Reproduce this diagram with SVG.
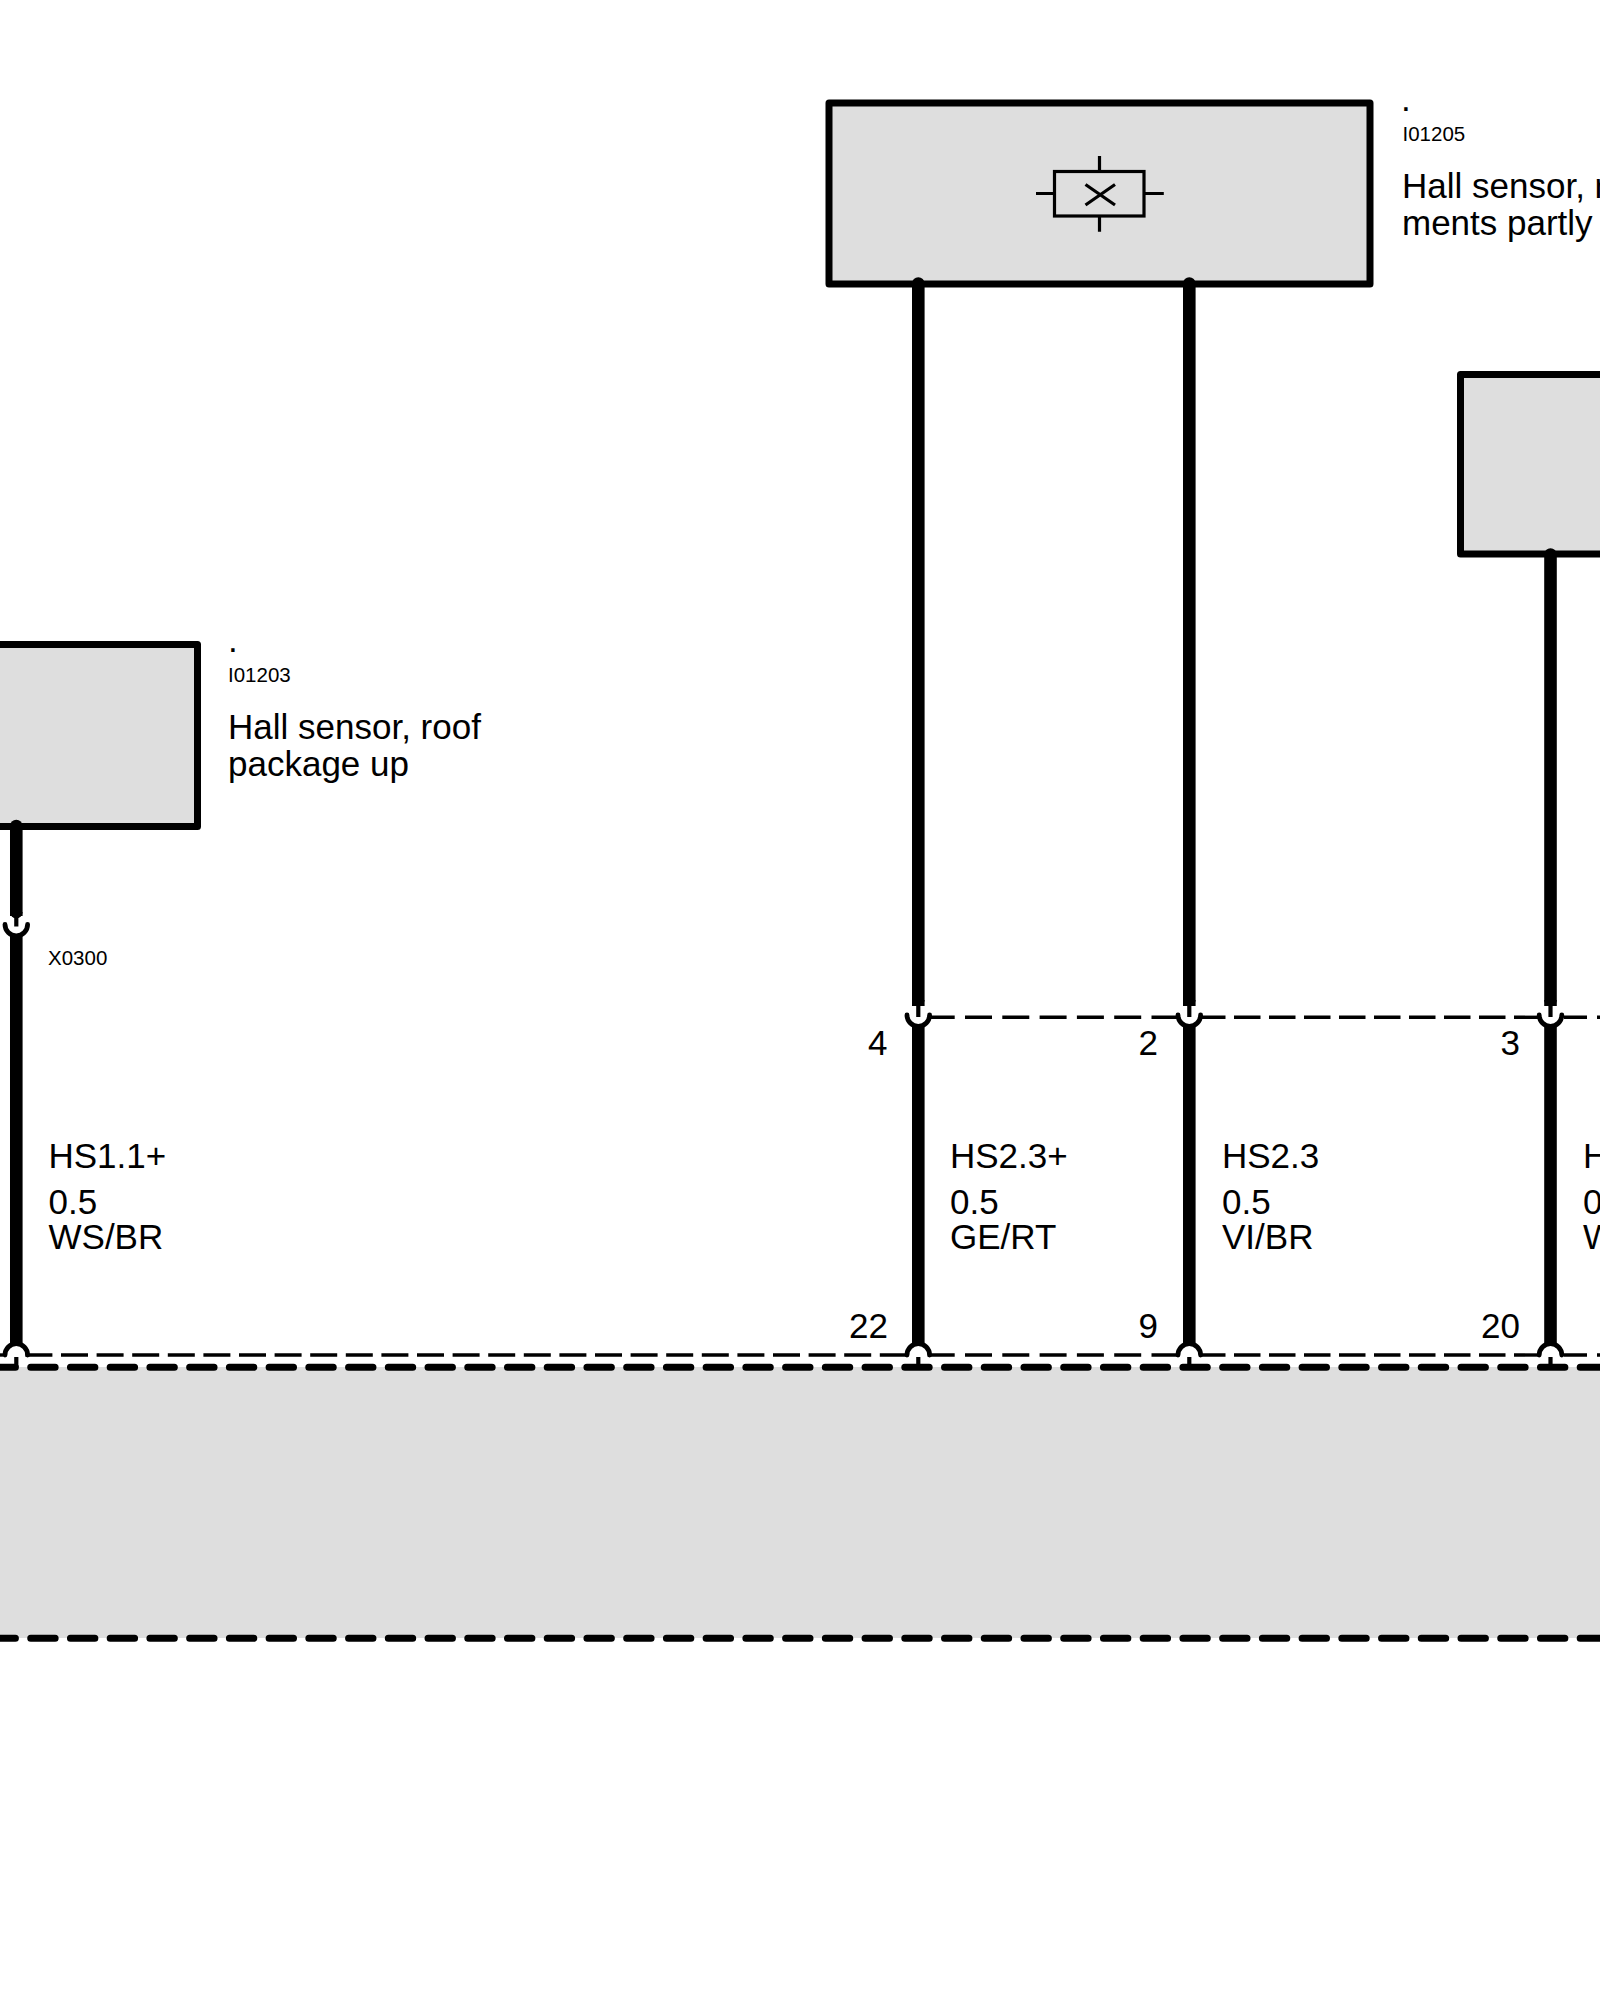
<svg xmlns="http://www.w3.org/2000/svg" xmlns:xlink="http://www.w3.org/1999/xlink" width="1600" height="2000" viewBox="0 0 1600 2000">
<style>
text{font-family:"Liberation Sans",Arial,sans-serif;fill:#000}
.l{font-size:35px}
.s{font-size:20.5px}
.e{text-anchor:end}
.box{fill:#dedede;stroke:#000;stroke-width:7;stroke-linejoin:round}
.wire{fill:none;stroke:#000;stroke-width:12.6;stroke-linecap:round}
.wb{fill:none;stroke:#000;stroke-width:12.6}
.stub{fill:none;stroke:#000;stroke-width:4.2}
.cup{fill:none;stroke:#000;stroke-width:4.8;stroke-linecap:round}
.thin{fill:none;stroke:#000;stroke-width:3.4}
.thick{fill:none;stroke:#000;stroke-width:7;stroke-linecap:round;stroke-dasharray:24.4 15.33}
.sym{fill:none;stroke:#000;stroke-width:3.2}
</style>
<defs>
<g id="cupTop"><path class="cup" d="M-11.3 -2A11.2 11.2 0 0 0 11.3 -2"/><path class="stub" d="M0 -11V0"/></g>
<g id="cupBottom"><path class="cup" d="M-11.3 0A11.2 11.2 0 0 1 11.3 0"/><path class="stub" d="M0 2V12"/></g>
</defs>
<rect width="1600" height="2000" fill="#fff"/>
<g id="control-unit">
<rect x="0" y="1367" width="1600" height="271" fill="#dedede"/>
<path class="thick" d="M-9 1367.3H1610"/>
<path class="thick" d="M-9 1638.3H1610"/>
</g>
<g id="sensor-i01205">
<rect class="box" x="829" y="103" width="541" height="181"/>
<g id="relay-symbol" class="sym">
<rect x="1054.5" y="171.5" width="89.5" height="44.5"/>
<path d="M1099.5 156V171.5M1099.5 216V231.7M1036 193.5H1054.5M1144 193.5H1163.8M1085.5 184.5L1115 205M1115 184.5L1085.5 205"/>
</g>
<text class="l" x="1401" y="111">.</text>
<text class="s" x="1402.5" y="141">I01205</text>
<text class="l" x="1402" y="198">Hall sensor, r</text>
<text class="l" x="1402" y="235">ments partly</text>
</g>
<g id="sensor-3">
<rect class="box" x="1460.5" y="374.5" width="160" height="179.5"/>
</g>
<g id="sensor-i01203">
<rect class="box" x="-20" y="644.5" width="217.5" height="182"/>
<text class="l" x="228" y="652">.</text>
<text class="s" x="228" y="681.7">I01203</text>
<text class="l" x="228" y="739">Hall sensor, roof</text>
<text class="l" x="228" y="776">package up</text>
</g>
<g id="connectors">
<path class="wire" d="M16.3 826V912"/>
<path class="wb" d="M16.3 916V912"/>
<path class="wb" d="M16.3 936V1346"/>
<use xlink:href="#cupTop" href="#cupTop" x="16.3" y="926.5"/>
<use xlink:href="#cupBottom" href="#cupBottom" x="16.3" y="1355"/>
<path class="wire" d="M918.3 283.5V1000"/>
<path class="wb" d="M918.3 1000V1006"/>
<path class="wb" d="M918.3 1027V1346"/>
<use xlink:href="#cupTop" href="#cupTop" x="918.3" y="1017"/>
<use xlink:href="#cupBottom" href="#cupBottom" x="918.3" y="1355"/>
<path class="wire" d="M1189.3 283.5V1000"/>
<path class="wb" d="M1189.3 1000V1006"/>
<path class="wb" d="M1189.3 1027V1346"/>
<use xlink:href="#cupTop" href="#cupTop" x="1189.3" y="1017"/>
<use xlink:href="#cupBottom" href="#cupBottom" x="1189.3" y="1355"/>
<path class="wire" d="M1550.5 554.5V1000"/>
<path class="wb" d="M1550.5 1000V1006"/>
<path class="wb" d="M1550.5 1027V1346"/>
<use xlink:href="#cupTop" href="#cupTop" x="1550.5" y="1017"/>
<use xlink:href="#cupBottom" href="#cupBottom" x="1550.5" y="1355"/>
<g id="dash-top">
<path class="thin" stroke-dasharray="27 10.3" d="M927.7 1017.3H1178"/>
<path class="thin" stroke-dasharray="26.5 8.5" d="M1199 1017.3H1539"/>
<path class="thin" stroke-dasharray="23 10" d="M1564 1017.3H1600"/>
</g>
<g id="dash-bottom">
<path class="thin" d="M0 1355H3"/>
<path class="thin" stroke-dasharray="27 8.6" d="M25.4 1355H906"/>
<path class="thin" stroke-dasharray="27 10.3" d="M927.7 1355H1178"/>
<path class="thin" stroke-dasharray="26.5 8.5" d="M1199 1355H1539"/>
<path class="thin" stroke-dasharray="23 10" d="M1564 1355H1600"/>
</g>
</g>
<g id="labels">
<text class="s" x="48" y="965">X0300</text>
<text class="l" x="48.5" y="1168">HS1.1+</text>
<text class="l" x="48.5" y="1213.5">0.5</text>
<text class="l" x="48.5" y="1249">WS/BR</text>
<text class="l" x="950" y="1168">HS2.3+</text>
<text class="l" x="950" y="1213.5">0.5</text>
<text class="l" x="950" y="1249">GE/RT</text>
<text class="l" x="1222" y="1168">HS2.3</text>
<text class="l" x="1222" y="1213.5">0.5</text>
<text class="l" x="1222" y="1249">VI/BR</text>
<text class="l" x="1583" y="1168">H</text>
<text class="l" x="1583" y="1213.5">0</text>
<text class="l" x="1583" y="1249">W</text>
<text class="l e" x="887.5" y="1055">4</text>
<text class="l e" x="1158" y="1055">2</text>
<text class="l e" x="1520" y="1055">3</text>
<text class="l e" x="888" y="1338">22</text>
<text class="l e" x="1158" y="1338">9</text>
<text class="l e" x="1520" y="1338">20</text>
</g>
</svg>
